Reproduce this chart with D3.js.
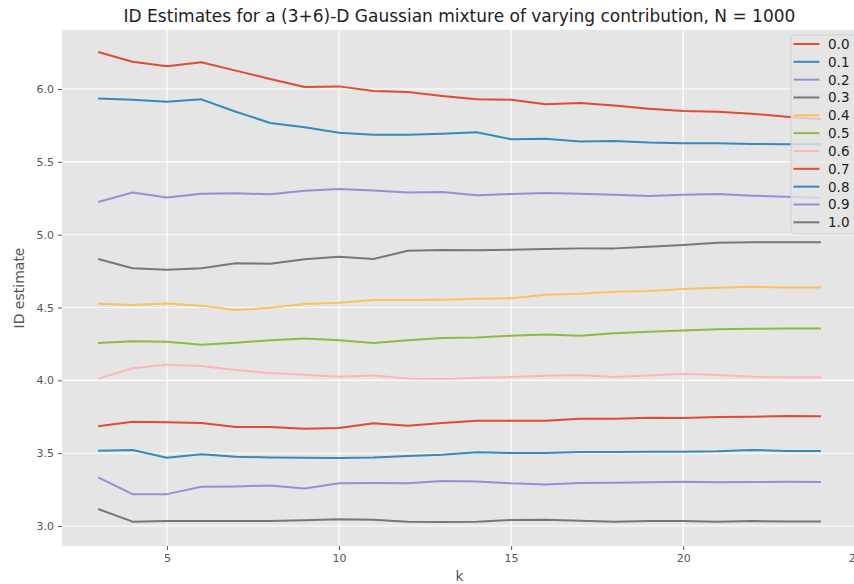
<!DOCTYPE html>
<html>
<head>
<meta charset="utf-8">
<script src="https://cdn.jsdelivr.net/npm/d3@7"></script>
<style>
  body { margin: 0; background: #fff; }
  svg { display: block; font-family: "DejaVu Sans", sans-serif; }
</style>
</head>
<body>
<svg id="chart" width="854" height="584"></svg>
<script>
// k values along the x axis
const ks = d3.range(3, 25);

// mixture contribution labels (legend)
const contributions = ["0.0", "0.1", "0.2", "0.3", "0.4", "0.5", "0.6", "0.7", "0.8", "0.9", "1.0"];

// ID estimates per contribution
const est00 = [6.254, 6.187, 6.156, 6.183, 6.126, 6.069, 6.014, 6.018, 5.986, 5.979, 5.952, 5.929, 5.927, 5.895, 5.904, 5.886, 5.865, 5.849, 5.844, 5.830, 5.810, 5.792];
const est01 = [5.934, 5.927, 5.913, 5.929, 5.844, 5.767, 5.737, 5.700, 5.686, 5.686, 5.693, 5.703, 5.655, 5.659, 5.639, 5.643, 5.632, 5.627, 5.627, 5.623, 5.620, 5.620];
const est02 = [5.224, 5.289, 5.256, 5.281, 5.284, 5.277, 5.302, 5.313, 5.304, 5.290, 5.293, 5.270, 5.279, 5.286, 5.281, 5.274, 5.265, 5.274, 5.279, 5.268, 5.261, 5.254];
const est03 = [4.833, 4.769, 4.760, 4.769, 4.804, 4.801, 4.831, 4.849, 4.833, 4.890, 4.895, 4.893, 4.897, 4.902, 4.906, 4.906, 4.918, 4.929, 4.945, 4.948, 4.948, 4.948];
const est04 = [4.526, 4.517, 4.528, 4.513, 4.483, 4.499, 4.524, 4.533, 4.552, 4.552, 4.554, 4.561, 4.563, 4.588, 4.595, 4.608, 4.613, 4.627, 4.636, 4.643, 4.638, 4.638];
const est05 = [4.256, 4.268, 4.265, 4.245, 4.258, 4.276, 4.288, 4.276, 4.256, 4.276, 4.290, 4.295, 4.306, 4.315, 4.306, 4.324, 4.333, 4.342, 4.351, 4.354, 4.356, 4.356];
const est06 = [4.012, 4.083, 4.108, 4.099, 4.071, 4.050, 4.039, 4.025, 4.034, 4.012, 4.009, 4.018, 4.023, 4.032, 4.036, 4.023, 4.034, 4.045, 4.036, 4.025, 4.021, 4.021];
const est07 = [3.685, 3.716, 3.712, 3.707, 3.680, 3.680, 3.668, 3.673, 3.705, 3.689, 3.708, 3.723, 3.723, 3.723, 3.737, 3.737, 3.744, 3.742, 3.748, 3.751, 3.755, 3.753];
const est08 = [3.517, 3.522, 3.469, 3.492, 3.476, 3.471, 3.469, 3.467, 3.471, 3.481, 3.490, 3.506, 3.501, 3.501, 3.508, 3.508, 3.510, 3.510, 3.513, 3.522, 3.515, 3.515];
const est09 = [3.334, 3.219, 3.219, 3.270, 3.272, 3.279, 3.258, 3.293, 3.295, 3.293, 3.309, 3.306, 3.293, 3.286, 3.295, 3.297, 3.300, 3.304, 3.300, 3.302, 3.304, 3.302];
const est10 = [3.117, 3.030, 3.034, 3.034, 3.034, 3.034, 3.039, 3.046, 3.044, 3.030, 3.027, 3.030, 3.041, 3.044, 3.037, 3.030, 3.034, 3.034, 3.030, 3.034, 3.032, 3.032];

const estimates = [est00, est01, est02, est03, est04, est05, est06, est07, est08, est09, est10];

// tick values
const xTicks = [5, 10, 15, 20, 25];
const yTicks = [3.0, 3.5, 4.0, 4.5, 5.0, 5.5, 6.0];

// ggplot style colour cycle
const colors = ["#E24A33", "#348ABD", "#988ED5", "#777777", "#FBC15E", "#8EBA42", "#FFB5B8"];

const margin = { top: 30, left: 62, right: 857, bottom: 546 };

const svg = d3.select("#chart");

const x = d3.scaleLinear().domain([1.95, 25.05]).range([margin.left, margin.right]);
const y = d3.scaleLinear().domain([2.863, 6.405]).range([margin.bottom, margin.top]);

// axes background
svg.append("rect")
    .attr("x", margin.left).attr("y", margin.top)
    .attr("width", margin.right - margin.left)
    .attr("height", margin.bottom - margin.top)
    .attr("fill", "#E5E5E5");

// grid lines
svg.append("g").selectAll("line").data(xTicks).enter().append("line")
    .attr("x1", d => x(d)).attr("x2", d => x(d))
    .attr("y1", margin.top).attr("y2", margin.bottom)
    .attr("stroke", "#fff").attr("stroke-width", 1.1);
svg.append("g").selectAll("line").data(yTicks).enter().append("line")
    .attr("x1", margin.left).attr("x2", margin.right)
    .attr("y1", d => y(d)).attr("y2", d => y(d))
    .attr("stroke", "#fff").attr("stroke-width", 1.1);

// x axis
const xAxis = svg.append("g")
    .attr("transform", `translate(0,${margin.bottom})`)
    .call(d3.axisBottom(x).tickValues(xTicks).tickSize(4).tickPadding(4).tickFormat(d3.format("d")));
xAxis.select(".domain").remove();

// y axis
const yAxis = svg.append("g")
    .attr("transform", `translate(${margin.left},0)`)
    .call(d3.axisLeft(y).tickValues(yTicks).tickSize(4).tickPadding(4).tickFormat(d3.format(".1f")));
yAxis.select(".domain").remove();

[xAxis, yAxis].forEach(a => {
    a.selectAll("line").attr("stroke", "#555");
    a.selectAll("text").attr("fill", "#555").style("font-size", "11px")
        .style("font-family", "DejaVu Sans");
});

// series lines
const line = d3.line()
    .x((d, i) => x(ks[i]))
    .y(d => y(d));

svg.append("g").selectAll("path").data(estimates).enter().append("path")
    .attr("d", d => line(d))
    .attr("fill", "none")
    .attr("stroke", (d, i) => colors[i % colors.length])
    .attr("stroke-width", 2)
    .attr("stroke-linejoin", "round");

// title and labels
svg.append("text")
    .attr("x", (margin.left + margin.right) / 2).attr("y", 22)
    .attr("text-anchor", "middle")
    .style("font-size", "17px").attr("fill", "#222")
    .text("ID Estimates for a (3+6)-D Gaussian mixture of varying contribution, N = 1000");

svg.append("text")
    .attr("x", (margin.left + margin.right) / 2).attr("y", 581)
    .attr("text-anchor", "middle")
    .style("font-size", "14px").attr("fill", "#555")
    .text("k");

svg.append("text")
    .attr("transform", `translate(24,${(margin.top + margin.bottom) / 2}) rotate(-90)`)
    .attr("text-anchor", "middle")
    .style("font-size", "14px").attr("fill", "#555")
    .text("ID estimate");

// legend
const legend = svg.append("g").attr("transform", "translate(791,35)");
legend.append("rect")
    .attr("width", 70).attr("height", 199).attr("rx", 3)
    .attr("fill", "#E5E5E5").attr("fill-opacity", 0.8)
    .attr("stroke", "#CCCCCC").attr("stroke-opacity", 0.8);

const items = legend.selectAll("g.item").data(contributions).enter().append("g")
    .attr("class", "item")
    .attr("transform", (d, i) => `translate(0,${9 + i * 17.83})`);
items.append("line")
    .attr("x1", 2.5).attr("x2", 28.5)
    .attr("stroke", (d, i) => colors[i % colors.length])
    .attr("stroke-width", 2);
items.append("text")
    .attr("x", 37).attr("y", 5)
    .style("font-size", "13.5px").attr("fill", "#222")
    .text(d => d);
</script>
</body>
</html>
